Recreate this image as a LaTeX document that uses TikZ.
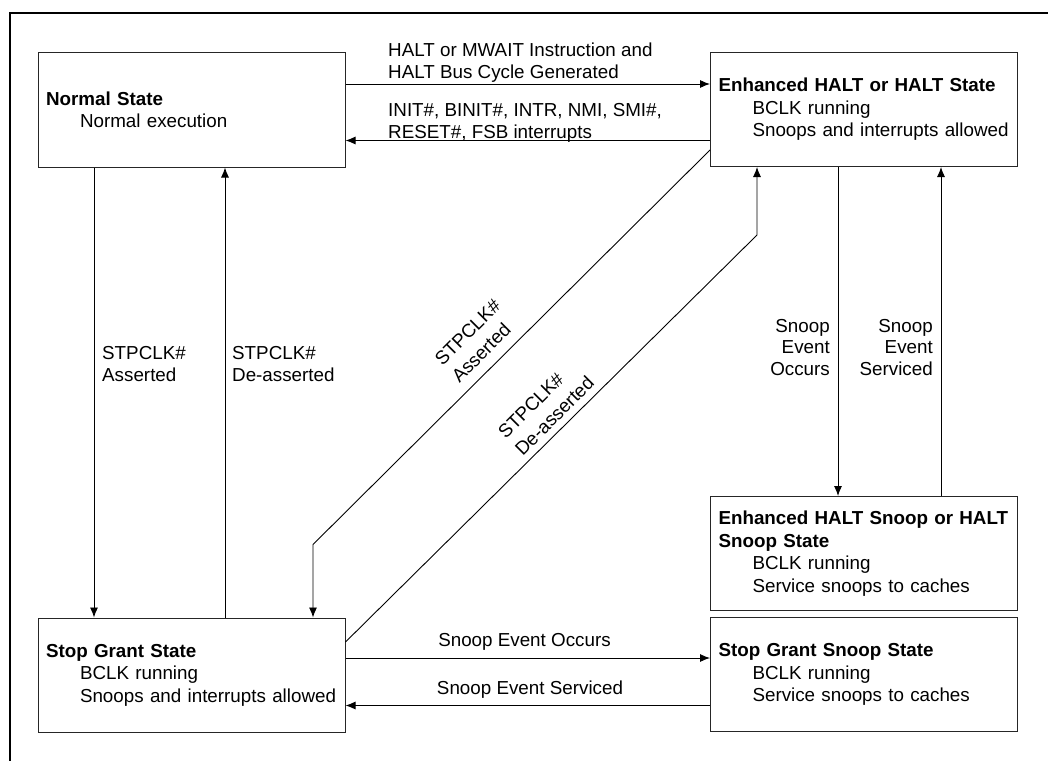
\documentclass[tikz,border=0pt]{standalone}
\usepackage{fontspec}
\setmainfont{Liberation Sans}
\usetikzlibrary{arrows.meta,calc}
\begin{document}
\begin{tikzpicture}[x=1pt,y=-1pt,
  state/.style={draw=black!85,line width=1pt,minimum width=307pt,minimum height=114pt,
    text width=291pt,inner xsep=8pt,inner ysep=0pt,align=left,
    font=\fontsize{18.8pt}{22.5pt}\selectfont},
  lbl/.style={inner sep=0pt,font=\fontsize{18.8pt}{21.5pt}\selectfont},
  rlbl/.style={inner sep=0pt,rotate=45,align=left,font=\fontsize{18.8pt}{24pt}\selectfont},
  arr/.style={-{Latex[length=10pt,width=8pt]},line width=0.9pt}]
\useasboundingbox (0,0) rectangle (1048,760);
\draw[line width=2pt] (10,761) -- (10,13) -- (1049,13);

\node[state] (N) at (191.5,110) {\textbf{Normal State}\\\hspace*{34pt}Normal execution};
\node[state] (E) at (864,109.5) {\textbf{Enhanced HALT or HALT State}\\\hspace*{34pt}BCLK running\\\hspace*{34pt}Snoops and interrupts allowed};
\node[state] (SG) at (191.5,675) {\textbf{Stop Grant State}\\\hspace*{34pt}BCLK running\\\hspace*{34pt}Snoops and interrupts allowed};
\node[state] (EHS) at (864,553.5) {\textbf{\mbox{Enhanced HALT Snoop or HALT}}\\\textbf{Snoop State}\\\hspace*{34pt}BCLK running\\\hspace*{34pt}Service snoops to caches};
\node[state] (SGS) at (864,674.5) {\textbf{Stop Grant Snoop State}\\\hspace*{34pt}BCLK running\\\hspace*{34pt}Service snoops to caches};

\coordinate (a1) at ([yshift=26pt]N.east);
\draw[arr] (a1) -- (a1 -| E.west);
\coordinate (a2) at ([yshift=-31pt]E.west);
\draw[arr] (a2) -- (a2 -| N.east);
\coordinate (a3) at ([xshift=-97.5pt]N.south);
\draw[arr] (a3) -- (a3 |- SG.north);
\coordinate (a4) at ([xshift=33.5pt]SG.north);
\draw[arr] (a4) -- (a4 |- N.south);
\coordinate (a5) at ([yshift=-40.5pt]E.west);
\coordinate (a5e) at ([xshift=121.5pt]SG.north);
\coordinate (a5c) at ([yshift=73pt]a5e);
\draw[arr] (a5) -- (a5c) -- (a5e);
\coordinate (a6) at ([yshift=33pt]SG.east);
\coordinate (a6e) at ([xshift=-107pt]E.south);
\coordinate (a6c) at ([yshift=-68pt]a6e);
\draw[arr] (a6) -- (a6c) -- (a6e);
\coordinate (a7) at ([xshift=-26pt]E.south);
\draw[arr] (a7) -- (a7 |- EHS.north);
\coordinate (a8) at ([xshift=77pt]EHS.north);
\draw[arr] (a8) -- (a8 |- E.south);
\coordinate (a9) at ([yshift=17pt]SG.east);
\draw[arr] (a9) -- (a9 -| SGS.west);
\coordinate (a10) at ([yshift=-31pt]SGS.west);
\draw[arr] (a10) -- (a10 -| SG.east);

\node[lbl,align=left,anchor=west] (l1) at (388,62.7) {HALT or MWAIT Instruction and\\HALT Bus Cycle Generated};
\node[lbl,align=left,anchor=west] (l2) at (388,122.9) {INIT\#, BINIT\#, INTR, NMI, SMI\#,\\RESET\#, FSB interrupts};
\node[lbl,align=left,anchor=west] (l3) at (102,364) {STPCLK\#\\Asserted};
\node[lbl,align=left,anchor=west] (l4) at (232,364) {STPCLK\#\\De-asserted};
\node[rlbl] (l5) at (476,341) {STPCLK\#\\Asserted};
\node[rlbl] (l6) at (546,407.5) {STPCLK\#\\De-asserted};
\node[lbl,align=right,anchor=east] (l7) at (830,347.5) {Snoop\\Event\\Occurs};
\node[lbl,align=right,anchor=east] (l8) at (933,347.5) {Snoop\\Event\\Serviced};
\node[lbl] (l9) at (524.5,641.5) {Snoop Event Occurs};
\node[lbl] (l10) at (530,689.5) {Snoop Event Serviced};
\end{tikzpicture}
\end{document}
